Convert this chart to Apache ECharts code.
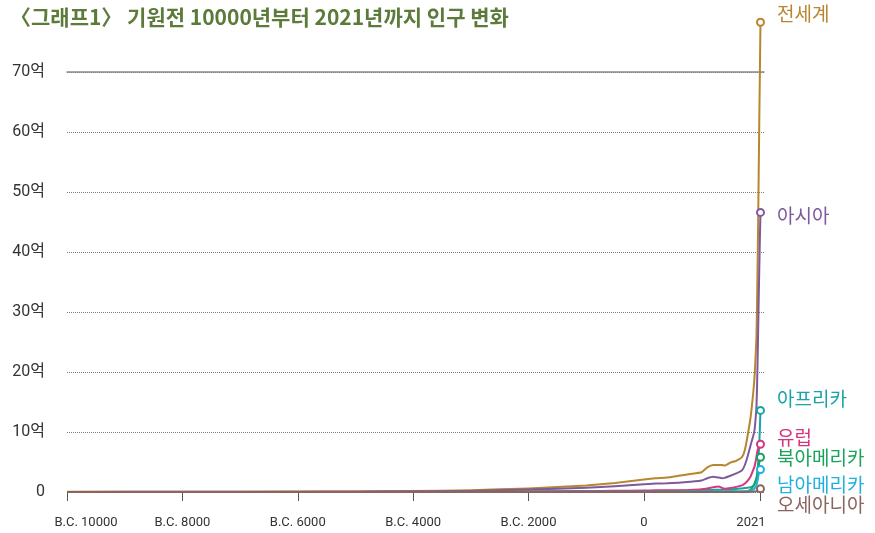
<!DOCTYPE html>
<html>
<head>
<meta charset="utf-8">
<script src="https://cdn.jsdelivr.net/npm/echarts@6/dist/echarts.min.js"></script>
<style>
  html, body { margin: 0; padding: 0; background: #fff; }
  #chart { width: 875px; height: 533px; }
</style>
</head>
<body>
<div id="chart"></div>
<script>
// 연도 (기원전은 음수)
var years = [-10000, -8000, -6000, -5000, -4000, -3000, -2000, -1000, -500, 0,
  200, 400, 600, 800, 1000, 1100, 1200, 1300, 1350, 1400,
  1500, 1600, 1700, 1750, 1800, 1850, 1900, 1920, 1950, 1960,
  1970, 1980, 1990, 2000, 2010, 2021];

// 인구 (단위: 억 명)
var world = [0.04, 0.05, 0.07, 0.1, 0.15, 0.3, 0.6, 1.1, 1.5, 2.1,
  2.3, 2.4, 2.7, 3.0, 3.3, 4.1, 4.5, 4.5, 4.5, 4.4,
  4.9, 5.2, 5.8, 7.0, 9.5, 12.5, 17, 19.5, 25.5, 30.3,
  37, 44.5, 53, 61.5, 69.5, 78.3];
var asia = [0.02, 0.03, 0.04, 0.06, 0.09, 0.18, 0.4, 0.7, 0.95, 1.3,
  1.4, 1.45, 1.55, 1.7, 1.9, 2.3, 2.55, 2.4, 2.3, 2.35,
  2.7, 3.1, 3.6, 4.5, 6.0, 7.8, 9.5, 10.5, 14, 17,
  21.5, 26.5, 32, 37, 42, 46.6];
var africa = [0.01, 0.01, 0.02, 0.02, 0.03, 0.05, 0.07, 0.1, 0.12, 0.15,
  0.17, 0.2, 0.22, 0.25, 0.3, 0.32, 0.35, 0.38, 0.38, 0.4,
  0.45, 0.5, 0.6, 0.65, 0.7, 0.8, 1.1, 1.4, 2.3, 2.8,
  3.6, 4.8, 6.3, 8.1, 10.4, 13.6];
var europe = [0.01, 0.01, 0.02, 0.03, 0.04, 0.06, 0.1, 0.15, 0.2, 0.25,
  0.28, 0.3, 0.3, 0.35, 0.45, 0.6, 0.8, 0.9, 0.7, 0.55,
  0.65, 0.85, 1.1, 1.4, 1.9, 2.6, 3.8, 4.3, 5.8, 6.4,
  6.9, 7.2, 7.5, 7.6, 7.8, 7.95];
var northAmerica = [0.005, 0.005, 0.01, 0.01, 0.01, 0.02, 0.03, 0.04, 0.05, 0.06,
  0.06, 0.07, 0.07, 0.08, 0.09, 0.1, 0.1, 0.1, 0.1, 0.1,
  0.12, 0.1, 0.1, 0.12, 0.15, 0.4, 1.0, 1.4, 2.2, 2.6,
  3.2, 3.7, 4.3, 4.9, 5.4, 5.8];
var southAmerica = [0.003, 0.004, 0.005, 0.006, 0.008, 0.01, 0.02, 0.03, 0.04, 0.05,
  0.05, 0.06, 0.06, 0.07, 0.08, 0.08, 0.09, 0.1, 0.1, 0.1,
  0.1, 0.08, 0.08, 0.1, 0.12, 0.2, 0.4, 0.6, 1.1, 1.45,
  1.9, 2.4, 2.95, 3.3, 3.55, 3.75];
var oceania = [0.01, 0.01, 0.01, 0.01, 0.01, 0.01, 0.01, 0.01, 0.01, 0.01,
  0.01, 0.01, 0.01, 0.01, 0.01, 0.01, 0.01, 0.01, 0.01, 0.01,
  0.01, 0.01, 0.01, 0.01, 0.02, 0.03, 0.06, 0.08, 0.13, 0.16,
  0.2, 0.23, 0.27, 0.31, 0.37, 0.55];

var xTicks = [-10000, -8000, -6000, -4000, -2000, 0, 2021];

var CJK = '"Noto Sans CJK KR", "Noto Sans", sans-serif';
var NUM = 'Roboto, "Noto Sans CJK KR", sans-serif';

// 이름, 값, 색, 라벨 세로 위치 보정
function makeSeries(name, values, color, dy) {
  var data = values.map(function (v, i) { return [years[i], v]; });
  var last = data.length - 1;
  data[last] = {
    value: data[last],
    symbol: 'emptyCircle',
    symbolSize: 7,
    label: {
      show: true,
      position: 'right',
      distance: 12,
      offset: [0, dy],
      formatter: name,
      color: color,
      fontSize: 19,
      fontFamily: CJK
    }
  };
  return {
    name: name,
    type: 'line',
    data: data,
    symbol: 'none',
    showSymbol: true,
    smooth: 0.15,
    clip: false,
    lineStyle: { color: color, width: 2, join: 'round' },
    itemStyle: { color: color, borderWidth: 1.8 }
  };
}

var chart = echarts.init(document.getElementById('chart'));
chart.setOption({
  animation: false,
  backgroundColor: '#fff',
  title: {
    text: '\u3008그래프1\u3009 기원전 10000년부터 2021년까지 인구 변화',
    left: 5,
    top: 2,
    textStyle: { color: '#5c7b3b', fontSize: 21, fontWeight: 'bold', fontFamily: CJK }
  },
  grid: { left: 67, right: 111, top: 72, bottom: 41 },
  xAxis: [{
    type: 'value',
    min: -10000,
    max: 2082,
    offset: 4,
    axisLine: { show: false },
    axisTick: { show: true, customValues: xTicks, length: 9, lineStyle: { color: '#555', width: 1 } },
    splitLine: { show: false },
    axisLabel: {
      customValues: xTicks,
      margin: 20,
      fontSize: 13,
      color: '#333',
      fontFamily: NUM,
      formatter: function (v) {
        if (v === -10000) return '{first|B.C. 10000}';
        if (v === 2021) return '{last|2021}';
        return v < 0 ? 'B.C. ' + (-v) : String(v);
      },
      rich: {
        first: { padding: [0, 0, 0, 38], fontSize: 13, color: '#333', fontFamily: NUM },
        last: { padding: [0, 19, 0, 0], fontSize: 13, color: '#333', fontFamily: NUM }
      }
    }
  }, {
    type: 'value',
    position: 'top',
    min: -10000,
    max: 2082,
    axisLine: { show: true, lineStyle: { color: '#8a8a8a', width: 1.5 } },
    axisTick: { show: false },
    axisLabel: { show: false },
    splitLine: { show: false }
  }],
  yAxis: {
    type: 'value',
    min: 0,
    max: 70,
    interval: 10,
    axisLine: { show: false },
    axisTick: { show: false },
    splitLine: { show: true, lineStyle: { color: '#7a7a7a', type: 'dotted', width: 1 } },
    axisLabel: {
      margin: 22,
      fontSize: 16,
      color: '#333',
      fontFamily: NUM,
      formatter: function (v) { return v === 0 ? '0' : v + '억'; }
    }
  },
  series: [
    makeSeries('전세계', world, '#b8862f', -8),
    makeSeries('아시아', asia, '#7d5a9c', 3),
    makeSeries('아프리카', africa, '#17a4a8', -12),
    makeSeries('유럽', europe, '#d6367f', -7),
    makeSeries('북아메리카', northAmerica, '#17a45a', 1),
    makeSeries('남아메리카', southAmerica, '#1fb0e0', 15),
    makeSeries('오세아니아', oceania, '#8b645d', 16)
  ]
});
</script>
</body>
</html>
